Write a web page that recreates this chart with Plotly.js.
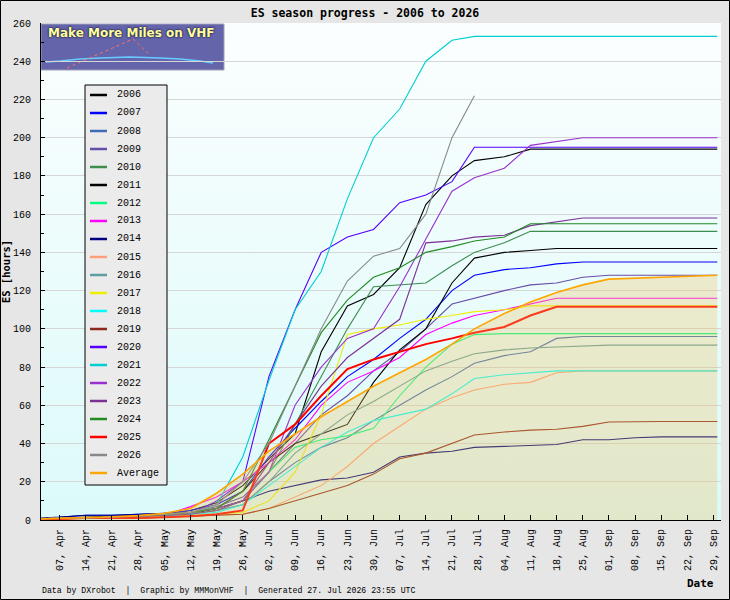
<!DOCTYPE html>
<html>
<head>
<meta charset="utf-8">
<script src="https://cdn.plot.ly/plotly-3.0.1.min.js"></script>
<style>html,body{margin:0;padding:0;background:#e6e6e6;}#chart{width:730px;height:600px;}</style>
</head>
<body>
<div id="chart"></div>
<script>
// ---- data (cumulative ES hours) ----
const dates = ['2026-04-01','2026-04-07','2026-04-14','2026-04-21','2026-04-28','2026-05-05','2026-05-12','2026-05-19','2026-05-26','2026-06-02','2026-06-09','2026-06-16','2026-06-23','2026-06-30','2026-07-07','2026-07-14','2026-07-21','2026-07-27','2026-08-04','2026-08-11','2026-08-18','2026-08-25','2026-09-01','2026-09-08','2026-09-15','2026-09-22','2026-09-29','2026-09-30'];

const years = ['2006','2007','2008','2009','2010','2011','2012','2013','2014','2015','2016','2017','2018','2019','2020','2021','2022','2023','2024','2025','2026'];
const colors = ['#000000','#0000ff','#3f6db5','#674ea7','#3d8e4e','#000000','#00ff7f','#ff00ff','#000080','#ffa07a','#5f9ea0','#eeee00','#00ffff','#8b2a1a','#5500ff','#00ced1','#9932cc','#7b3294','#228b22','#ff0000','#888888'];
const avgName = 'Average';
const avgColor = '#ffa500';

const y2006 = [0.5,1,1.5,2,2.5,3,5,9,18,32,45,88,112,118,132,165,180,188,190,194,194,194,194,194,194,194,194,194];
const y2007 = [0.5,1.5,2.5,2.5,3,3.5,5,8,15,33,48,62,75,84,95,105,120,128,131,132,134,135,135,135,135,135,135,135];
const y2008 = [0.5,1,1,1.5,2,2.5,3.5,5,8,20,30,38,43,52,60,68,75,82,86,88,95,96,96,96,96,96,96,96];
const y2009 = [0.5,1,1,1.5,2,3,4,7,12,25,40,55,65,78,88,100,113,116,120,123,124,127,128,128,128,128,128,128];
const y2010 = [0.5,1,1,1.5,2,3,4,6,10,25,50,75,100,122,123,124,133,140,145,151,151,151,151,151,151,151,151,151];
const y2011 = [0.5,1,1,1.5,2,2.5,3,6,15,30,40,45,50,72,89,100,124,137,140,141,142,142,142,142,142,142,142,142];
const y2012 = [0.5,1,1,1,1.5,2,3,5,10,25,38,42,44,48,65,80,92,97,97.5,97.5,97.5,97.5,97.5,97.5,97.5,97.5,97.5,97.5];
const y2013 = [0.5,1,1,1.5,2,2.5,7,12,20,30,42,60,72,78,85,97,103,107,110,113,116,116,116,116,116,116,116,116];
const y2014 = [1,1.5,2.5,2.5,3,3.5,4,6,10,15,18,21,22,25,33,35,36,38,38.5,39,39.5,42,42,43,43.5,43.5,43.5,43.5];
const y2015 = [0.5,0.5,1,1,1,1.5,2,2.5,3,6,12,18,28,40,49,58,64,68,71,72,77,78,78,78,78,78,78,78];
const y2016 = [0.5,1,1,1.5,2,2.5,3,5,8,20,35,45,55,62,70,78,83,87,89,90,90.5,91,91.5,91.5,91.5,91.5,91.5,91.5];
const y2017 = [0.5,1,1,1,1.5,2,2.5,3,4,10,25,55,97,100,102,105,107,109,110,112,112,112,112,112,112,112,112,112];
const y2018 = [0.5,1,1,1.5,2,2.5,3,4,8,18,28,38,46,52,55,58,66,74,76,77,78,78,78,78,78,78,78,78];
const y2019 = [0.5,0.5,1,1,1,1.5,2,2.5,3,6,10,14,18,24,32,35,40,44.5,46,47,47.5,49,51.3,51.5,51.5,51.5,51.5,51.5];
const y2020 = [0.5,1,1,1.5,2,2.5,3,10,20,75,110,140,148,152,166,170,177,195,195,195,195,195,195,195,195,195,195,195];
const y2021 = [0.5,1,1,1.5,2,2.5,3,8,33,73,110,130,168,200,215,240,251,253,253,253,253,253,253,253,253,253,253,253];
const y2022 = [0.5,1,1,1.5,2,3,4,6,10,25,60,80,95,100,122,147,172,179,184,196,198,200,200,200,200,200,200,200];
const y2023 = [0.5,1,1,1.5,2,2.5,3,5,10,30,50,70,85,95,105,145,146,148,149,154,156,158,158,158,158,158,158,158];
const y2024 = [0.5,1,1,1.5,2,3,4,6,15,42,70,98,115,127,132,140,143,146,148,155,155,155,155,155,155,155,155,155];
const y2025 = [0.5,0.5,1,1,1,1.5,2,3,5,40,50,65,79,84,88,92,95,98,101,107,111.5,111.5,111.5,111.5,111.5,111.5,111.5,111.5];
const y2026 = [0.5,1,1,1.5,2,3,4,8,20,40,70,100,125,138,142,160,200,222,null,null,null,null,null,null,null,null,null,null];
const yAverage = [0.5,1,1.3,1.7,2.3,3.5,6,14,24,36,45,54,62,70,77,84,92,100,108,114,119,123,126,126.5,127,127.5,128,128];

const series = [y2006,y2007,y2008,y2009,y2010,y2011,y2012,y2013,y2014,y2015,y2016,y2017,y2018,y2019,y2020,y2021,y2022,y2023,y2024,y2025,y2026];

const mono = 'DejaVu Sans Mono, monospace';
const thin = 'Liberation Mono, DejaVu Sans Mono, monospace';

const traces = years.map((yr, i) => ({
  type: 'scatter', mode: 'lines', name: yr,
  x: dates, y: series[i],
  line: {color: colors[i], width: yr === '2025' ? 2 : 1.1},
  connectgaps: false, showlegend: false
}));
traces.push({
  type: 'scatter', mode: 'lines', name: avgName,
  x: dates, y: yAverage,
  line: {color: avgColor, width: 1.6},
  fill: 'tozeroy', fillcolor: 'rgba(239,192,92,0.3)', showlegend: false
});

// paper-coordinate helpers (plot area: x 41..721 px, y 23..520 px)
const px = v => (v - 41) / 680;
const py = v => (520 - v) / 497;

const grad = "<svg xmlns='http://www.w3.org/2000/svg' width='10' height='100' preserveAspectRatio='none'><defs><linearGradient id='g' x1='0' y1='0' x2='0' y2='1'><stop offset='0' stop-color='#fbfefe'/><stop offset='1' stop-color='#dcfafa'/></linearGradient></defs><rect width='10' height='100' fill='url(#g)'/></svg>";

const shapes = [
  {type: 'rect', xref: 'paper', yref: 'paper', x0: 0, x1: px(224), y0: py(70), y1: py(24),
   fillcolor: '#6464aa', line: {color: '#a0a0b8', width: 1}, layer: 'below'},
  {type: 'path', xref: 'paper', yref: 'paper', layer: 'below',
   path: `M ${px(46)} ${py(62)} L ${px(60)} ${py(61)} L ${px(80)} ${py(59)} L ${px(100)} ${py(58)} L ${px(130)} ${py(57)} L ${px(160)} ${py(58)} L ${px(180)} ${py(59)} L ${px(200)} ${py(61)} L ${px(213)} ${py(63)}`,
   line: {color: '#66ccff', width: 1.5}},
  {type: 'path', xref: 'paper', yref: 'paper', layer: 'below',
   path: `M ${px(67)} ${py(68)} L ${px(133)} ${py(39)} L ${px(150)} ${py(55)}`,
   line: {color: '#ff7060', width: 1, dash: 'dot'}},
  // legend box
  {type: 'rect', xref: 'paper', yref: 'paper', x0: px(85), x1: px(167), y0: py(485), y1: py(85),
   fillcolor: '#ebebeb', line: {color: '#000', width: 1}, layer: 'above'},
  // outer frame
  {type: 'rect', xref: 'paper', yref: 'paper', x0: px(0.5), x1: px(729.5), y0: py(599.5), y1: py(0.5),
   line: {color: '#000', width: 1}, fillcolor: 'rgba(0,0,0,0)', layer: 'above'}
];

const annotations = [
  {text: 'Make More Miles on VHF', xref: 'paper', yref: 'paper', x: px(131), y: py(33),
   xanchor: 'center', yanchor: 'middle', showarrow: false,
   font: {family: 'DejaVu Sans, sans-serif', size: 12, color: '#ffffa0', weight: 'bold',
          shadow: '0px 0px 2px #202040, 0px 0px 2px #202040'}},
  {text: 'Data by DXrobot\u00a0\u00a0|\u00a0\u00a0Graphic by MMMonVHF\u00a0\u00a0|\u00a0\u00a0Generated 27. Jul 2026 23:55 UTC',
   xref: 'paper', yref: 'paper', x: px(40), y: py(590), xanchor: 'left', yanchor: 'middle', showarrow: false,
   font: {family: thin, size: 8.2, color: '#000'}},
  {text: 'Date', xref: 'paper', yref: 'paper', x: px(716), y: py(583), xanchor: 'right', yanchor: 'middle', showarrow: false,
   font: {family: mono, size: 11, color: '#000', weight: 'bold'}}
];

// legend entries drawn from the same names/colours
const legNames = years.concat([avgName]);
const legColors = colors.concat([avgColor]);
legNames.forEach((nm, i) => {
  const yc = 95 + 18 * i;
  shapes.push({type: 'line', xref: 'paper', yref: 'paper', x0: px(90), x1: px(107), y0: py(yc), y1: py(yc),
               line: {color: legColors[i], width: 2.5}, layer: 'above'});
  annotations.push({text: nm, xref: 'paper', yref: 'paper', x: px(115), y: py(yc), xanchor: 'left', yanchor: 'middle',
                    showarrow: false, font: {family: thin, size: 10, color: '#000'}});
});

const layout = {
  width: 730, height: 600,
  margin: {l: 41, r: 9, t: 23, b: 80, pad: 0},
  paper_bgcolor: '#e6e6e6',
  plot_bgcolor: 'rgba(0,0,0,0)',
  showlegend: false,
  title: {text: 'ES season progress - 2006 to 2026', font: {family: mono, size: 11.5, color: '#000', weight: 'bold'},
          x: 0.5, xref: 'container', y: 1 - 13/600, yref: 'container', yanchor: 'middle'},
  xaxis: {
    type: 'date', range: ['2026-04-02', '2026-10-01'],
    tick0: '2026-04-07', dtick: 7 * 86400000, tickformat: '%d, %b', tickangle: -90,
    ticks: 'inside', ticklen: 5, tickcolor: '#000', showgrid: false, zeroline: false,
    showline: true, linecolor: '#000', linewidth: 1,
    tickfont: {family: thin, size: 10, color: '#000'}, ticklabelstandoff: 4
  },
  yaxis: {
    range: [0, 260], dtick: 20, tick0: 0,
    ticks: 'inside', ticklen: 4, tickcolor: '#000',
    minor: {dtick: 10, ticks: 'inside', ticklen: 3, tickcolor: '#000', showgrid: false},
    showgrid: true, gridcolor: '#d6d6d6', gridwidth: 1, zeroline: false,
    showline: true, linecolor: '#000', linewidth: 1,
    tickfont: {family: thin, size: 10, color: '#000'}, ticklabelstandoff: 7,
    title: {text: 'ES [hours]', font: {family: mono, size: 10.5, color: '#000', weight: 'bold'}, standoff: 6}
  },
  images: [{
    source: 'data:image/svg+xml;charset=utf-8,' + encodeURIComponent(grad),
    xref: 'paper', yref: 'paper', x: 0, y: 1, sizex: 1, sizey: 1,
    xanchor: 'left', yanchor: 'top', sizing: 'stretch', layer: 'below'
  }],
  shapes: shapes,
  annotations: annotations
};

Plotly.newPlot('chart', traces, layout, {displayModeBar: false, staticPlot: true});
</script>
</body>
</html>
